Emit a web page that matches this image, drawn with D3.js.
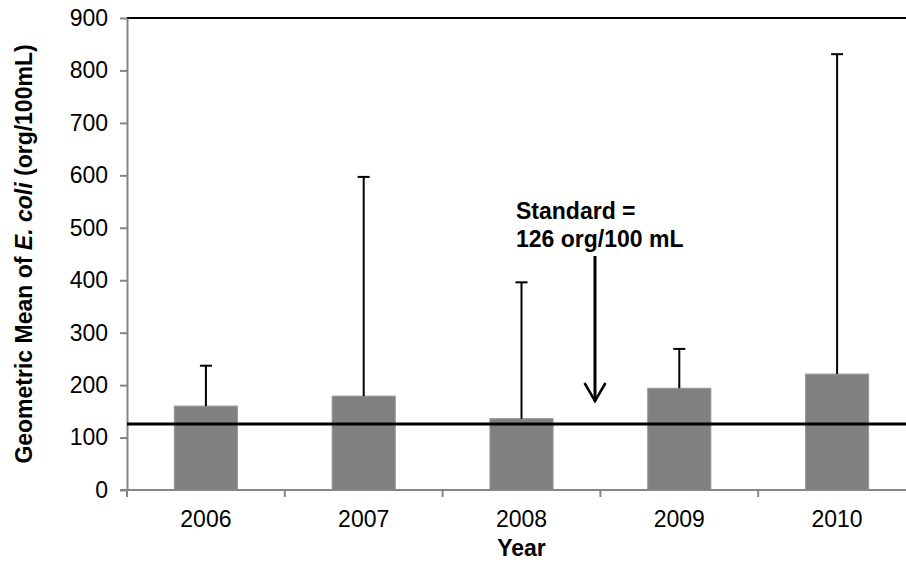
<!DOCTYPE html>
<html>
<head>
<meta charset="utf-8">
<script src="https://cdn.jsdelivr.net/npm/d3@7"></script>
<style>
  html, body { margin: 0; padding: 0; background: #fff; }
  svg { display: block; font-family: "Liberation Sans", Arial, sans-serif; }
</style>
</head>
<body>
<svg id="chart" width="906" height="565"></svg>
<script>
// Yearly geometric mean of E. coli with upper error bars
const years = ["2006", "2007", "2008", "2009", "2010"];
const geoMean = [160, 179, 136, 194, 221];
const upperBound = [237, 597, 396, 269, 831];
const standardValue = 126;
const yTicks = [0, 100, 200, 300, 400, 500, 600, 700, 800, 900];

const svg = d3.select("#chart");
const margin = { left: 127, top: 18, right: -10, bottom: 75 };
const W = 906, H = 565;
const fontSize = 23;

const x = d3.scaleBand()
  .domain(years)
  .range([margin.left, W - margin.right])
  .paddingInner(0.6)
  .paddingOuter(0.3);

const y = d3.scaleLinear()
  .domain([0, 900])
  .range([H - margin.bottom, margin.top]);

const axisGray = "#868686";

// top border of the plot
svg.append("line")
  .attr("x1", margin.left).attr("x2", W)
  .attr("y1", y(900)).attr("y2", y(900))
  .attr("stroke", "#000").attr("stroke-width", 2);

// bars
svg.append("g").selectAll("rect")
  .data(years)
  .join("rect")
  .attr("x", d => x(d))
  .attr("width", x.bandwidth())
  .attr("y", (d, i) => y(geoMean[i]))
  .attr("height", (d, i) => y(0) - y(geoMean[i]))
  .attr("fill", "#808080")
  .attr("stroke", "#979797")
  .attr("stroke-width", 1);

// upper error bars
const eb = svg.append("g").attr("stroke", "#000").attr("stroke-width", 2);
years.forEach((d, i) => {
  const cx = x(d) + x.bandwidth() / 2;
  eb.append("line")
    .attr("x1", cx).attr("x2", cx)
    .attr("y1", y(geoMean[i])).attr("y2", y(upperBound[i]));
  eb.append("line")
    .attr("x1", cx - 6).attr("x2", cx + 6)
    .attr("y1", y(upperBound[i])).attr("y2", y(upperBound[i]));
});

// y axis
const yAxis = svg.append("g")
  .attr("transform", `translate(${margin.left},0)`)
  .call(d3.axisLeft(y).tickValues(yTicks).tickSize(7).tickPadding(12).tickSizeOuter(0));
yAxis.select(".domain").attr("stroke", axisGray).attr("stroke-width", 2);
yAxis.selectAll(".tick line").attr("stroke", axisGray).attr("stroke-width", 2);
yAxis.selectAll(".tick text")
  .attr("font-size", fontSize).attr("fill", "#000")
  .attr("font-family", "Liberation Sans, Arial, sans-serif");

// x axis with ticks at category boundaries
const step = x.step();
const x0 = margin.left;
const boundaries = d3.range(years.length + 1).map(k => x0 + k * step);
const xAxis = svg.append("g");
xAxis.append("line")
  .attr("x1", margin.left - 7).attr("x2", W)
  .attr("y1", y(0)).attr("y2", y(0))
  .attr("stroke", axisGray).attr("stroke-width", 2);
xAxis.selectAll("line.tk")
  .data(boundaries)
  .join("line")
  .attr("class", "tk")
  .attr("x1", d => d).attr("x2", d => d)
  .attr("y1", y(0)).attr("y2", y(0) + 7)
  .attr("stroke", axisGray).attr("stroke-width", 2);
xAxis.selectAll("text")
  .data(years)
  .join("text")
  .attr("x", d => x(d) + x.bandwidth() / 2)
  .attr("y", 527)
  .attr("text-anchor", "middle")
  .attr("font-size", fontSize)
  .text(d => d);

// standard reference line
svg.append("line")
  .attr("x1", margin.left).attr("x2", W)
  .attr("y1", y(standardValue)).attr("y2", y(standardValue))
  .attr("stroke", "#000").attr("stroke-width", 3);

// annotation
const ann = svg.append("g").attr("font-weight", "bold").attr("font-size", fontSize);
ann.append("text").attr("x", 516).attr("y", 219).text("Standard =");
ann.append("text").attr("x", 516).attr("y", 247).text(`${standardValue} org/100 mL`);
const ax = 595;
svg.append("line")
  .attr("x1", ax).attr("x2", ax).attr("y1", 256).attr("y2", 401)
  .attr("stroke", "#000").attr("stroke-width", 3);
svg.append("path")
  .attr("d", `M${ax - 10.5},${383} L${ax},${401} L${ax + 10.5},${383}`)
  .attr("fill", "none").attr("stroke", "#000").attr("stroke-width", 2.5);

// axis titles
svg.append("text")
  .attr("x", (margin.left + 916) / 2).attr("y", 556)
  .attr("text-anchor", "middle")
  .attr("font-weight", "bold").attr("font-size", fontSize)
  .text("Year");

const yt = svg.append("text")
  .attr("transform", `translate(32,${(y(0) + y(900)) / 2}) rotate(-90)`)
  .attr("text-anchor", "middle")
  .attr("font-weight", "bold").attr("font-size", fontSize);
yt.append("tspan").text("Geometric Mean of ");
yt.append("tspan").attr("font-style", "italic").text("E. coli");
yt.append("tspan").text(" (org/100mL)");
</script>
</body>
</html>
